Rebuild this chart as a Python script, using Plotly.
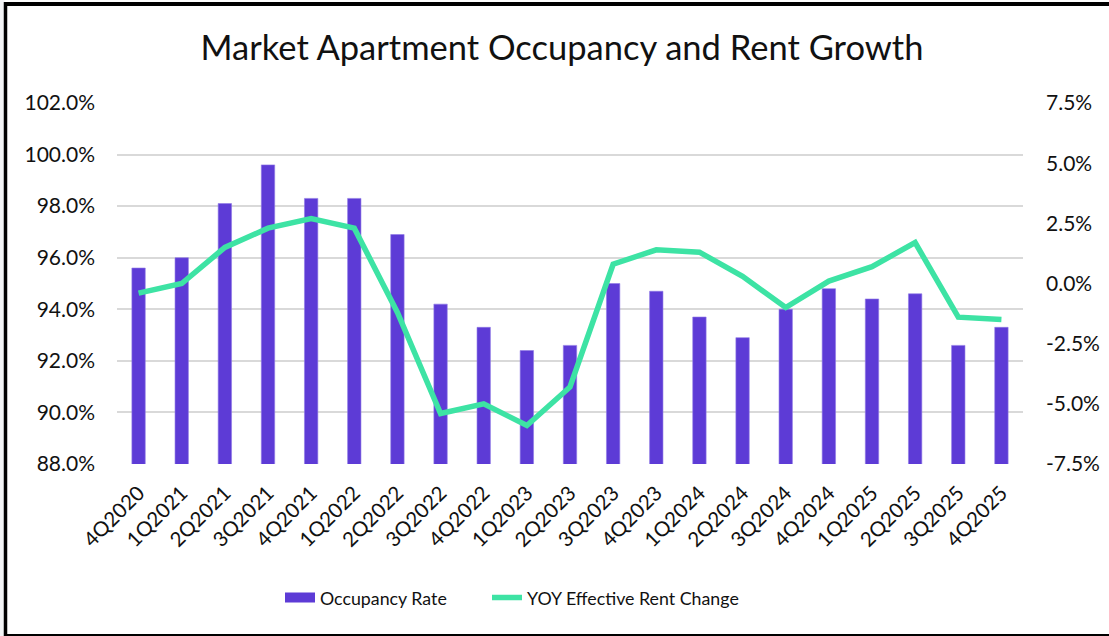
import plotly.graph_objects as go

quarters = ["4Q2020", "1Q2021", "2Q2021", "3Q2021", "4Q2021", "1Q2022", "2Q2022",
            "3Q2022", "4Q2022", "1Q2023", "2Q2023", "3Q2023", "4Q2023", "1Q2024",
            "2Q2024", "3Q2024", "4Q2024", "1Q2025", "2Q2025", "3Q2025", "4Q2025"]
occupancy_rate = [95.6, 96.0, 98.1, 99.6, 98.3, 98.3, 96.9, 94.2, 93.3, 92.4, 92.6,
                  95.0, 94.7, 93.7, 92.9, 94.0, 94.8, 94.4, 94.6, 92.6, 93.3]
rent_change = [-0.4, 0.0, 1.5, 2.3, 2.7, 2.3, -1.2, -5.4, -5.0, -5.9, -4.3,
               0.8, 1.4, 1.3, 0.3, -1.0, 0.1, 0.7, 1.7, -1.4, -1.5]

left_ticks = [88, 90, 92, 94, 96, 98, 100, 102]
right_ticks = [-7.5, -5.0, -2.5, 0.0, 2.5, 5.0, 7.5]

FONT = "Lato, 'Open Sans', sans-serif"
TEXT = "#111111"
BAR = "#5d3bd6"
LINE = "#3de3a4"

W, H = 1109, 636
L, R, T, B = 117, 1023, 103, 464


def px(x):
    return (x - L) / (R - L)


def py(y):
    return (B - y) / (B - T)


fig = go.Figure()
fig.add_trace(go.Bar(
    x=quarters, y=occupancy_rate, name="Occupancy Rate",
    marker=dict(color=BAR, line=dict(color="#8f78e6", width=0.6)),
    yaxis="y", showlegend=False,
))
# wide swatch for the bar series in the legend
fig.add_trace(go.Scatter(
    x=[None], y=[None], name="Occupancy Rate", mode="lines",
    line=dict(color=BAR, width=13), yaxis="y", hoverinfo="skip",
    legend="legend",
))
fig.add_trace(go.Scatter(
    x=quarters, y=rent_change, name="YOY Effective Rent Change",
    mode="lines", line=dict(color=LINE, width=5.5),
    yaxis="y2", legend="legend2",
))

shapes = [
    # outer frame
    dict(type="rect", xref="paper", yref="paper", x0=px(0), x1=px(4.5), y0=py(0), y1=py(H),
         fillcolor="#f3f4f6", line=dict(width=0), layer="below"),
    dict(type="line", xref="paper", yref="paper", x0=px(5.5), x1=px(5.5), y0=py(2), y1=py(H),
         line=dict(color="#000000", width=3.5)),
    dict(type="line", xref="paper", yref="paper", x0=px(4), x1=px(W + 5), y0=py(4), y1=py(4),
         line=dict(color="#000000", width=4)),
    dict(type="line", xref="paper", yref="paper", x0=px(4), x1=px(W + 5), y0=py(635), y1=py(635),
         line=dict(color="#000000", width=2)),
]

legend_style = dict(orientation="h", xanchor="left", y=py(598), yanchor="middle",
                    font=dict(size=17.8, family=FONT, color=TEXT),
                    bgcolor="rgba(0,0,0,0)")

fig.update_layout(
    width=W, height=H,
    margin=dict(l=L, r=W - R, t=T, b=H - B, autoexpand=False),
    paper_bgcolor="#ffffff", plot_bgcolor="#ffffff",
    font=dict(family=FONT, color=TEXT, size=19),
    title=dict(text="Market Apartment Occupancy and Rent Growth",
               x=562 / W, xanchor="center", y=1 - 48 / H, yanchor="middle",
               font=dict(size=34.5, family=FONT, color=TEXT)),
    bargap=0.69,
    showlegend=True,
    legend=dict(x=px(280), **legend_style),
    legend2=dict(x=px(487), **legend_style),
    xaxis=dict(type="category", tickangle=-45, showgrid=False, zeroline=False,
               showline=False, ticks="", ticklabelstandoff=12,
               tickfont=dict(size=20.5, family=FONT, color=TEXT)),
    yaxis=dict(range=[88, 102], tickvals=left_ticks,
               ticktext=[f"{v:.1f}%" for v in left_ticks],
               showgrid=True, gridcolor="#d9d9d9", gridwidth=1.5, zeroline=False,
               showline=False, ticks="", ticklabelstandoff=21,
               tickfont=dict(size=21, family=FONT, color=TEXT)),
    yaxis2=dict(range=[-7.5, 7.5], tickvals=right_ticks,
                ticktext=[f"{v:.1f}%" for v in right_ticks],
                overlaying="y", side="right", showgrid=False, zeroline=False,
                showline=False, ticks="", ticklabelstandoff=22,
                tickfont=dict(size=21, family=FONT, color=TEXT)),
    shapes=shapes,
)

fig.write_html("out.html")
